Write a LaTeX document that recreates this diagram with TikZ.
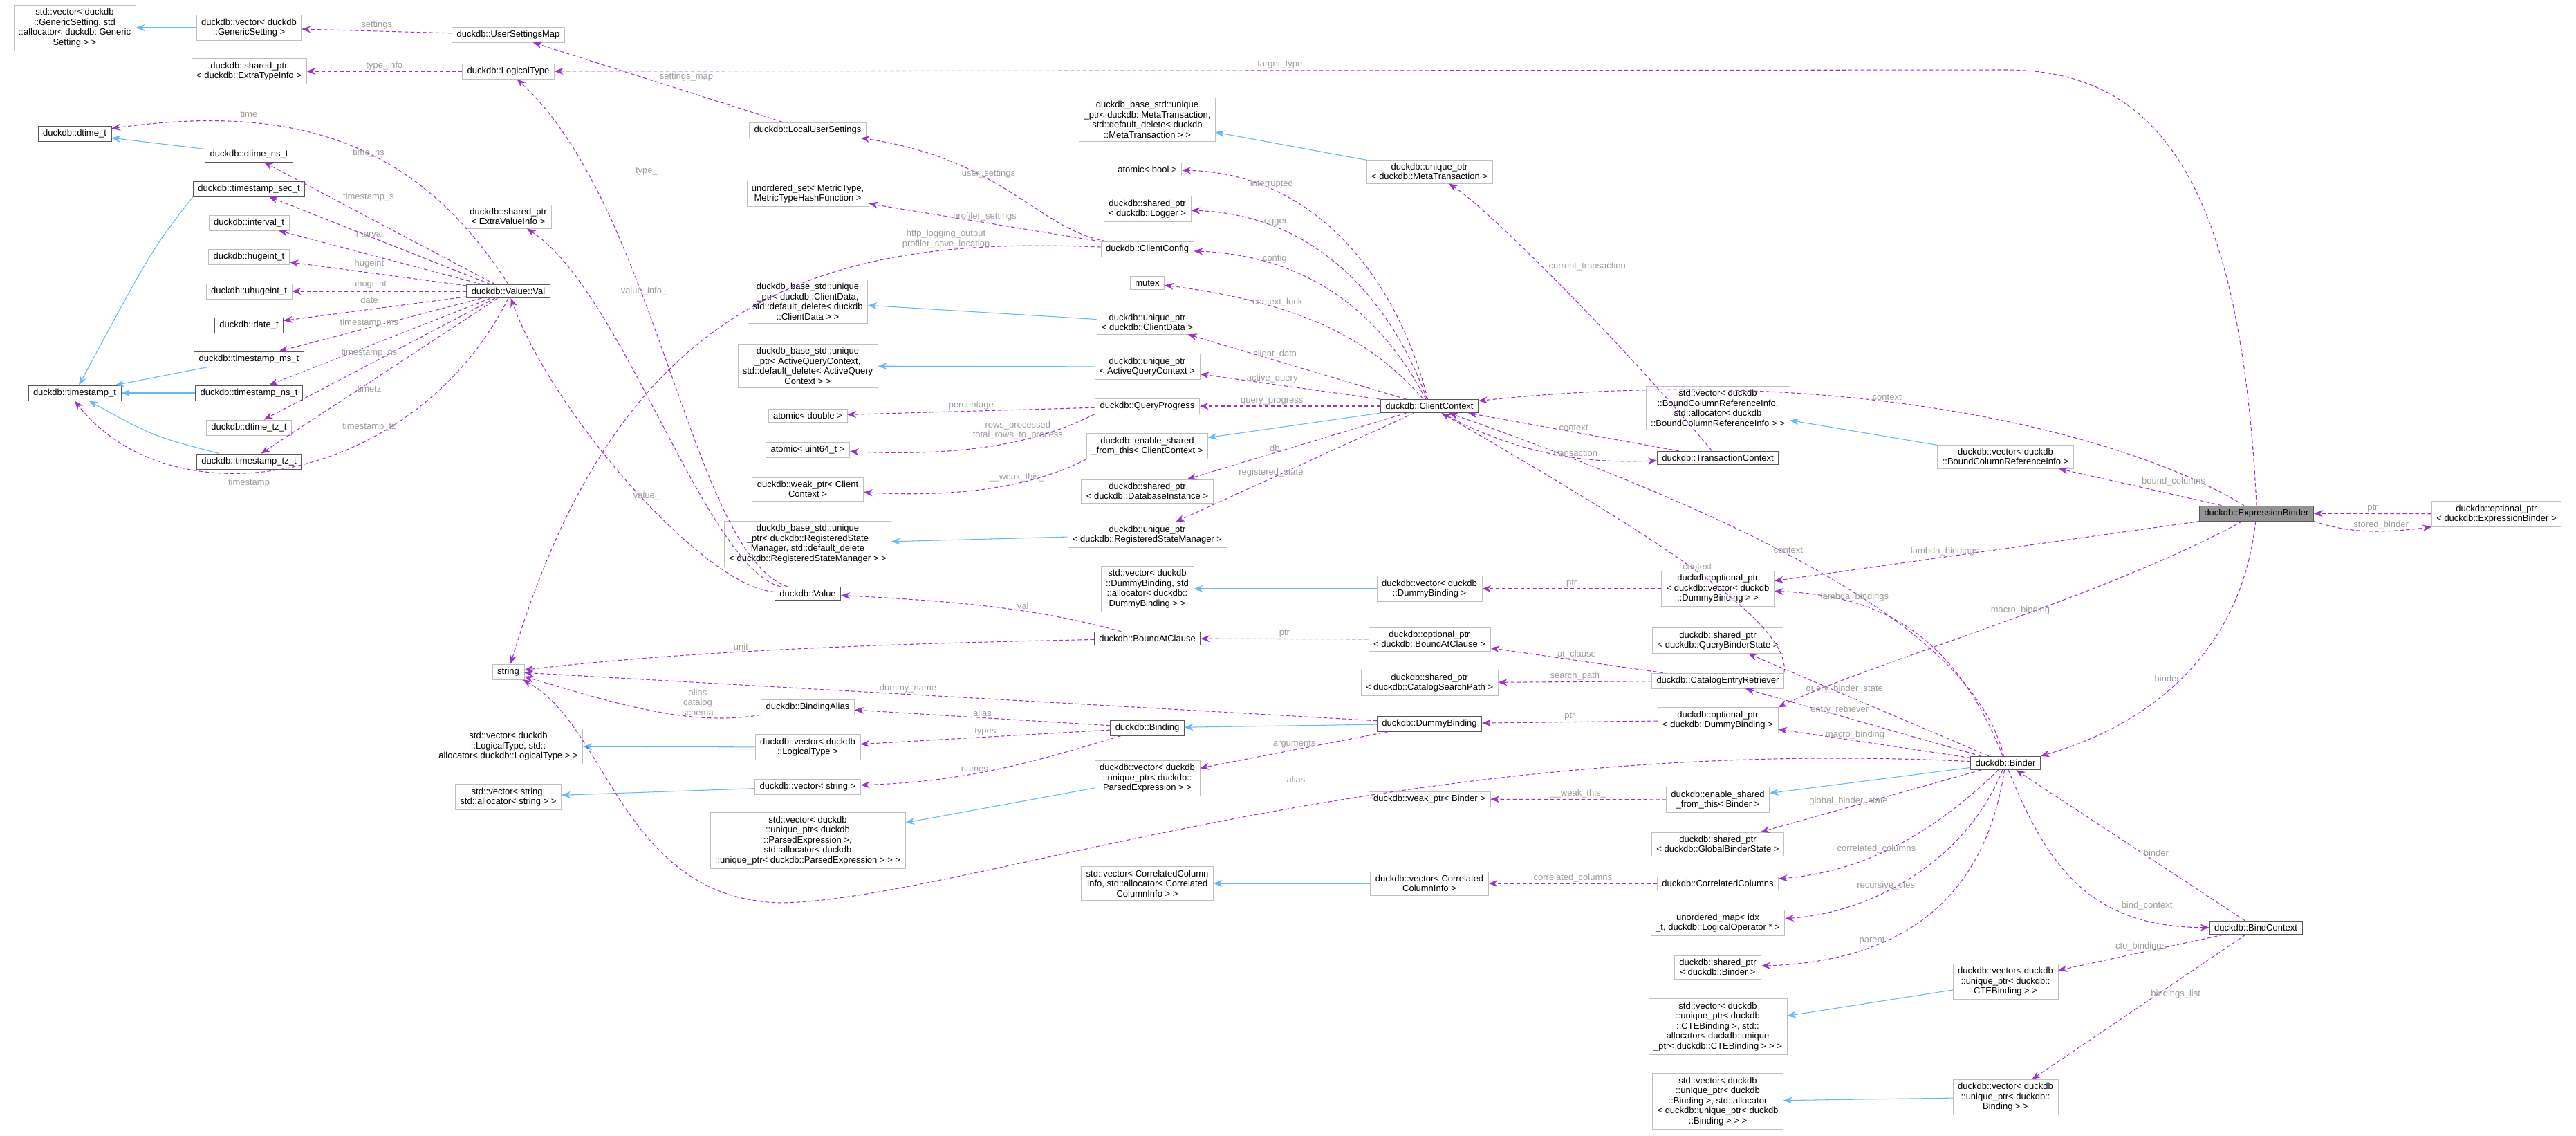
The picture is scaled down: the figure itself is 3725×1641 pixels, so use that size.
\documentclass[tikz,border=0pt]{standalone}
\usepackage{fontspec}
\setmainfont{Liberation Sans}
\usetikzlibrary{arrows.meta}
\definecolor{mempurple}{HTML}{9A32CD}
\definecolor{inhblue}{HTML}{63B8FF}
\definecolor{lblgray}{HTML}{9C9C9C}
\tikzset{
  box/.style={draw, fill=white, align=center, inner xsep=0.14cm, inner ysep=0.1cm,
    font=\fontsize{7.4pt}{8.3pt}\selectfont},
  cls/.style={box, draw=black!65},
  ext/.style={box, draw=black!25},
  mem/.style={draw=mempurple, line width=0.6pt, dash pattern=on 0.11cm off 0.07cm,
    -{Stealth[length=0.26cm,width=0.2cm]}},
  inh/.style={draw=inhblue, line width=0.6pt, -{Stealth[length=0.26cm,width=0.2cm]}},
  lbl/.style={text=lblgray, font=\fontsize{7.4pt}{8.3pt}\selectfont, align=center, inner sep=1pt}
}
\begin{document}
\begin{tikzpicture}[x=0.02cm, y=-0.02cm]
  \useasboundingbox (0,0) rectangle (3725,1641);
  % left columns
  \node[ext] (stdvecgs) at (108,40) {std::vector< duckdb\\::GenericSetting, std\\::allocator< duckdb::Generic\\Setting > >};
  \node[ext] (vecgs) at (360,40) {duckdb::vector< duckdb\\::GenericSetting >};
  \node[ext] (usermap) at (735,50) {duckdb::UserSettingsMap};
  \node[ext] (sharedeti) at (360,103) {duckdb::shared\_ptr\\< duckdb::ExtraTypeInfo >};
  \node[ext] (logtype) at (735,103) {duckdb::LogicalType};
  \node[cls] (dtime) at (108,193) {duckdb::dtime\_t};
  \node[cls] (dtimens) at (360,223) {duckdb::dtime\_ns\_t};
  \node[cls] (tssec) at (360,273) {duckdb::timestamp\_sec\_t};
  \node[ext] (interval) at (360,322) {duckdb::interval\_t};
  \node[ext] (hugeint) at (360,371) {duckdb::hugeint\_t};
  \node[ext] (uhugeint) at (360,421) {duckdb::uhugeint\_t};
  \node[cls] (date) at (360,470) {duckdb::date\_t};
  \node[cls] (tsms) at (360,519) {duckdb::timestamp\_ms\_t};
  \node[cls] (ts) at (108,568) {duckdb::timestamp\_t};
  \node[cls] (tsns) at (360,568) {duckdb::timestamp\_ns\_t};
  \node[ext] (dtimetz) at (360,618) {duckdb::dtime\_tz\_t};
  \node[cls] (tstz) at (360,667) {duckdb::timestamp\_tz\_t};
  \node[cls] (val) at (735,421) {duckdb::Value::Val};
  \node[ext] (sharedevi) at (735,313) {duckdb::shared\_ptr\\< ExtraValueInfo >};
  \node[ext] (string) at (735,971) {string};
  \node[ext] (stdveclt) at (735,1079) {std::vector< duckdb\\::LogicalType, std::\\allocator< duckdb::LogicalType > >};
  \node[ext] (stdvecstr) at (735,1152) {std::vector< string,\\std::allocator< string > >};
  % second column
  \node[ext] (localus) at (1168,188) {duckdb::LocalUserSettings};
  \node[ext] (metricset) at (1168,280) {unordered\_set< MetricType,\\MetricTypeHashFunction >};
  \node[ext] (basecd) at (1168,436) {duckdb\_base\_std::unique\\\_ptr< duckdb::ClientData,\\std::default\_delete< duckdb\\::ClientData > >};
  \node[ext] (baseaq) at (1168,529) {duckdb\_base\_std::unique\\\_ptr< ActiveQueryContext,\\std::default\_delete< ActiveQuery\\Context > >};
  \node[ext] (atomicdbl) at (1168,601) {atomic< double >};
  \node[ext] (atomicu64) at (1168,650) {atomic< uint64\_t >};
  \node[ext] (weakcc) at (1168,707) {duckdb::weak\_ptr< Client\\Context >};
  \node[ext] (baserss) at (1168,786) {duckdb\_base\_std::unique\\\_ptr< duckdb::RegisteredState\\Manager, std::default\_delete\\< duckdb::RegisteredStateManager > >};
  \node[cls] (value) at (1168,858) {duckdb::Value};
  \node[ext] (bindalias) at (1168,1022) {duckdb::BindingAlias};
  \node[ext] (veclt) at (1168,1080) {duckdb::vector< duckdb\\::LogicalType >};
  \node[ext] (vecstr) at (1168,1137) {duckdb::vector< string >};
  \node[ext] (stdvecpe) at (1168,1215) {std::vector< duckdb\\::unique\_ptr< duckdb\\::ParsedExpression >,\\std::allocator< duckdb\\::unique\_ptr< duckdb::ParsedExpression > > >};
  % third column
  \node[ext] (basemt) at (1659,173) {duckdb\_base\_std::unique\\\_ptr< duckdb::MetaTransaction,\\std::default\_delete< duckdb\\::MetaTransaction > >};
  \node[ext] (atomicbool) at (1659,245) {atomic< bool >};
  \node[ext] (sharedlog) at (1659,302) {duckdb::shared\_ptr\\< duckdb::Logger >};
  \node[ext] (config) at (1659,360) {duckdb::ClientConfig};
  \node[ext] (mutex) at (1659,409) {mutex};
  \node[ext] (uniquecd) at (1659,466) {duckdb::unique\_ptr\\< duckdb::ClientData >};
  \node[ext] (uniqueaq) at (1659,530) {duckdb::unique\_ptr\\< ActiveQueryContext >};
  \node[ext] (progress) at (1659,587) {duckdb::QueryProgress};
  \node[ext] (enablecc) at (1659,645) {duckdb::enable\_shared\\\_from\_this< ClientContext >};
  \node[ext] (shareddb) at (1659,710) {duckdb::shared\_ptr\\< duckdb::DatabaseInstance >};
  \node[ext] (uniquerss) at (1659,773) {duckdb::unique\_ptr\\< duckdb::RegisteredStateManager >};
  \node[ext] (stdvecdb) at (1659,851) {std::vector< duckdb\\::DummyBinding, std\\::allocator< duckdb::\\DummyBinding > >};
  \node[cls] (boundat) at (1659,923) {duckdb::BoundAtClause};
  \node[cls] (binding) at (1659,1052) {duckdb::Binding};
  \node[ext] (vecpe) at (1659,1125) {duckdb::vector< duckdb\\::unique\_ptr< duckdb::\\ParsedExpression > >};
  \node[ext] (stdveccc) at (1659,1277) {std::vector< CorrelatedColumn\\Info, std::allocator< Correlated\\ColumnInfo > >};
  % fourth column
  \node[ext] (uniquemt) at (2067,248) {duckdb::unique\_ptr\\< duckdb::MetaTransaction >};
  \node[cls] (cc) at (2067,587) {duckdb::ClientContext};
  \node[ext] (vecdb) at (2067,851) {duckdb::vector< duckdb\\::DummyBinding >};
  \node[ext] (optbat) at (2067,924) {duckdb::optional\_ptr\\< duckdb::BoundAtClause >};
  \node[ext] (sharedcsp) at (2067,987) {duckdb::shared\_ptr\\< duckdb::CatalogSearchPath >};
  \node[cls] (dummy) at (2067,1046) {duckdb::DummyBinding};
  \node[ext] (weakbinder) at (2067,1155) {duckdb::weak\_ptr< Binder >};
  \node[ext] (veccc) at (2067,1277) {duckdb::vector< Correlated\\ColumnInfo >};
  % fifth column
  \node[ext] (stdvecbcri) at (2484,590) {std::vector< duckdb\\::BoundColumnReferenceInfo,\\std::allocator< duckdb\\::BoundColumnReferenceInfo > >};
  \node[cls] (txctx) at (2484,662) {duckdb::TransactionContext};
  \node[ext] (optvecdb) at (2484,851) {duckdb::optional\_ptr\\< duckdb::vector< duckdb\\::DummyBinding > >};
  \node[ext] (sharedqbs) at (2484,926) {duckdb::shared\_ptr\\< duckdb::QueryBinderState >};
  \node[ext] (retriever) at (2484,984) {duckdb::CatalogEntryRetriever};
  \node[ext] (optdb) at (2484,1041) {duckdb::optional\_ptr\\< duckdb::DummyBinding >};
  \node[ext] (enablebinder) at (2484,1156) {duckdb::enable\_shared\\\_from\_this< Binder >};
  \node[ext] (sharedgbs) at (2484,1220) {duckdb::shared\_ptr\\< duckdb::GlobalBinderState >};
  \node[ext] (corrcols) at (2484,1277) {duckdb::CorrelatedColumns};
  \node[ext] (ctemap) at (2484,1334) {unordered\_map< idx\\\_t, duckdb::LogicalOperator * >};
  \node[ext] (sharedbinder) at (2484,1398) {duckdb::shared\_ptr\\< duckdb::Binder >};
  \node[ext] (stdveccte) at (2484,1484) {std::vector< duckdb\\::unique\_ptr< duckdb\\::CTEBinding >, std::\\allocator< duckdb::unique\\\_ptr< duckdb::CTEBinding > > >};
  \node[ext] (stdvecbind) at (2484,1592) {std::vector< duckdb\\::unique\_ptr< duckdb\\::Binding >, std::allocator\\< duckdb::unique\_ptr< duckdb\\::Binding > > >};
  % right columns
  \node[ext] (vecbcri) at (2900,660) {duckdb::vector< duckdb\\::BoundColumnReferenceInfo >};
  \node[cls] (binder) at (2900,1103) {duckdb::Binder};
  \node[ext] (veccte) at (2900,1419) {duckdb::vector< duckdb\\::unique\_ptr< duckdb::\\CTEBinding > >};
  \node[ext] (vecbind) at (2900,1586) {duckdb::vector< duckdb\\::unique\_ptr< duckdb::\\Binding > >};
  \node[cls, fill=black!42] (exprbinder) at (3263,742) {duckdb::ExpressionBinder};
  \node[cls] (bindctx) at (3262,1341) {duckdb::BindContext};
  \node[ext] (optexpr) at (3610,743) {duckdb::optional\_ptr\\< duckdb::ExpressionBinder >};

  % inheritance
  \draw[inh] (vecgs) -- (stdvecgs);
  \draw[inh] (dtimens) -- (dtime);
  \draw[inh] (tssec.south west) ..controls (220,360) .. (ts);
  \draw[inh] (tsms) -- (ts);
  \draw[inh] (tsns) -- (ts);
  \draw[inh] (tstz) ..controls (220,630) .. (ts);
  \draw[inh] (uniquemt) -- (basemt);
  \draw[inh] (uniquecd) -- (basecd);
  \draw[inh] (uniqueaq) -- (baseaq);
  \draw[inh] (cc) -- (enablecc);
  \draw[inh] (uniquerss) -- (baserss);
  \draw[inh] (vecbcri) -- (stdvecbcri);
  \draw[inh] (vecdb) -- (stdvecdb);
  \draw[inh] (dummy) -- (binding);
  \draw[inh] (veclt) -- (stdveclt);
  \draw[inh] (vecstr) -- (stdvecstr);
  \draw[inh] (vecpe) -- (stdvecpe);
  \draw[inh] (veccc) -- (stdveccc);
  \draw[inh] (binder) -- (enablebinder);
  \draw[inh] (veccte) -- (stdveccte);
  \draw[inh] (vecbind) -- (stdvecbind);

  % members of Value::Val
  \draw[mem] (val.north) .. controls (600,200) and (420,150) .. (dtime);
  \draw[mem] (val) -- (dtimens);
  \draw[mem] (val) -- (tssec);
  \draw[mem] (val) -- (interval);
  \draw[mem] (val) -- (hugeint);
  \draw[mem] (val) -- (uhugeint);
  \draw[mem] (val) -- (date);
  \draw[mem] (val) -- (tsms);
  \draw[mem] (val) -- (tsns);
  \draw[mem] (val) -- (dtimetz);
  \draw[mem] (val) -- (tstz);
  \draw[mem] (val.south) .. controls (600,700) and (250,760) .. (ts.south);
  \node[lbl] (ltime) at (360,165) {time};
  \node[lbl] (ltimens) at (533,221) {time\_ns};
  \node[lbl] (ltss) at (533,285) {timestamp\_s};
  \node[lbl] (linterval) at (533,338) {interval};
  \node[lbl] (lhugeint) at (534,381) {hugeint};
  \node[lbl] (luhugeint) at (534,411) {uhugeint};
  \node[lbl] (ldate) at (534,434) {date};
  \node[lbl] (ltsms) at (534,467) {timestamp\_ms};
  \node[lbl] (ltsns) at (534,510) {timestamp\_ns};
  \node[lbl] (ltimetz) at (534,562) {timetz};
  \node[lbl] (ltstz) at (534,617) {timestamp\_tz};
  \node[lbl] (lts) at (360,698) {timestamp};

  % other members
  \draw[mem] (usermap) -- node[lbl, above] {settings} (vecgs);
  \draw[mem] (localus) -- node[lbl, above right] {settings\_map} (usermap);
  \draw[mem] (logtype) -- node[lbl, above] {type\_info} (sharedeti);
  \draw[mem] (exprbinder.north) .. controls (3240,260) and (3120,101) .. (2900,101)
    -- node[lbl, above] {target\_type} (logtype);
  \draw[mem] (value) .. controls (1000,800) and (950,300) .. (logtype);
  \draw[mem] (value) .. controls (1020,820) and (900,420) .. (sharedevi);
  \draw[mem] (value) .. controls (1020,850) and (800,600) .. (val);
  \node[lbl] (ltype) at (935,248) {type\_};
  \node[lbl] (lvalinfo) at (931,421) {value\_info\_};
  \node[lbl] (lvalue) at (935,717) {value\_};
  \draw[mem] (config) .. controls (1200,340) and (900,420) .. node[lbl, above, pos=0.2] {http\_logging\_output\\profiler\_save\_location} (string);
  \draw[mem] (config) .. controls (1500,330) and (1450,230) .. node[lbl, above, pos=0.6] {user\_settings} (localus);
  \draw[mem] (config) -- node[lbl, above] {profiler\_settings} (metricset);
  \draw[mem] (cc) .. controls (2020,400) and (1900,250) .. node[lbl, above, pos=0.75] {interrupted} (atomicbool);
  \draw[mem] (cc) .. controls (2010,430) and (1900,310) .. node[lbl, above, pos=0.75] {logger} (sharedlog);
  \draw[mem] (cc) .. controls (2000,460) and (1900,370) .. node[lbl, above, pos=0.75] {config} (config);
  \draw[mem] (cc) .. controls (1990,500) and (1900,440) .. node[lbl, above, pos=0.7] {context\_lock} (mutex);
  \draw[mem] (cc) -- node[lbl, above, pos=0.6] {client\_data} (uniquecd);
  \draw[mem] (cc) -- node[lbl, above, pos=0.6] {active\_query} (uniqueaq);
  \draw[mem] (cc) -- node[lbl, above, pos=0.6] {query\_progress} (progress);
  \draw[mem] (progress) -- node[lbl, above] {percentage} (atomicdbl);
  \draw[mem] (progress.south west) .. controls (1500,640) and (1400,660) .. node[lbl, above, pos=0.4] {rows\_processed\\total\_rows\_to\_process} (atomicu64);
  \draw[mem] (enablecc.south west) .. controls (1500,700) and (1400,720) .. node[lbl, above, pos=0.4] {\_\_weak\_this\_} (weakcc);
  \draw[mem] (cc) -- node[lbl, above, pos=0.6] {db} (shareddb);
  \draw[mem] (cc) -- node[lbl, above, pos=0.6] {registered\_state} (uniquerss);
  \draw[mem] (txctx) .. controls (2350,500) and (2150,300) .. node[lbl, above right, pos=0.55] {current\_transaction} (uniquemt);
  \draw[mem] (txctx) -- node[lbl, above] {context} (cc);
  \draw[mem] (cc) .. controls (2200,660) and (2300,670) .. node[lbl, above, pos=0.6] {transaction} (txctx);
  \draw[mem] (exprbinder) .. controls (3100,640) and (2700,520) .. node[lbl, above, pos=0.6] {context} (cc);
  \draw[mem] (binder) .. controls (2850,900) and (2500,740) .. node[lbl, above, pos=0.55] {context} (cc);
  \draw[mem] (retriever.north east) .. controls (2590,900) and (2400,780) .. node[lbl, above, pos=0.5] {context} (cc);
  \draw[mem] (boundat) .. controls (1300,930) and (1000,940) .. node[lbl, above, pos=0.6] {unit} (string);
  \draw[mem] (boundat) .. controls (1500,880) and (1400,870) .. node[lbl, above, pos=0.4] {val} (value);
  \draw[mem] (optbat) -- node[lbl, above] {ptr} (boundat);
  \draw[mem] (dummy) -- node[lbl, above, pos=0.55] {dummy\_name} (string);
  \draw[mem] (binding) -- node[lbl, above] {alias} (bindalias);
  \draw[mem] (bindalias) .. controls (1000,1050) and (900,1020) .. node[lbl, above, pos=0.3] {alias\\catalog\\schema} (string);
  \draw[mem] (binding) -- node[lbl, above] {types} (veclt);
  \draw[mem] (binding) .. controls (1500,1100) and (1400,1130) .. node[lbl, above, pos=0.6] {names} (vecstr);
  \draw[mem] (dummy) -- node[lbl, above] {arguments} (vecpe);
  \draw[mem] (binder) .. controls (2000,1060) and (1400,1300) .. (1130,1305)
    .. controls (900,1300) and (880,1050) .. (string);
  \node[lbl] (laliasb) at (1874,1127) {alias};
  \draw[mem] (optvecdb) -- node[lbl, above] {ptr} (vecdb);
  \draw[mem] (retriever) -- node[lbl, above] {at\_clause} (optbat);
  \draw[mem] (retriever) -- node[lbl, above] {search\_path} (sharedcsp);
  \draw[mem] (optdb) -- node[lbl, above] {ptr} (dummy);
  \draw[mem] (enablebinder) -- node[lbl, above] {\_\_weak\_this\_} (weakbinder);
  \draw[mem] (corrcols) -- node[lbl, above] {correlated\_columns} (veccc);
  \draw[mem] (exprbinder) -- node[lbl, above right] {bound\_columns} (vecbcri);
  \draw[mem] (exprbinder) -- node[lbl, above, pos=0.6] {lambda\_bindings} (optvecdb);
  \draw[mem] (exprbinder) .. controls (3050,860) and (2700,960) .. node[lbl, above, pos=0.45] {macro\_binding} (optdb.north east);
  \draw[mem] (exprbinder) .. controls (3240,950) and (3100,1050) .. node[lbl, left, pos=0.5] {binder} (binder.north east);
  \draw[mem] (optexpr) -- node[lbl, above] {ptr} (exprbinder);
  \draw[mem] (exprbinder.south east) .. controls (3400,772) and (3450,770) .. node[lbl, above, pos=0.6] {stored\_binder} (optexpr.south west);
  \draw[mem] (binder) .. controls (2820,900) and (2700,860) .. node[lbl, above, pos=0.7] {lambda\_bindings} (optvecdb);
  \draw[mem] (binder) -- node[lbl, above, pos=0.6] {query\_binder\_state} (sharedqbs);
  \draw[mem] (binder) -- node[lbl, above, pos=0.6] {entry\_retriever} (retriever);
  \draw[mem] (binder) -- node[lbl, above, pos=0.6] {macro\_binding} (optdb);
  \draw[mem] (binder) -- node[lbl, above, pos=0.6] {global\_binder\_state} (sharedgbs);
  \draw[mem] (binder) .. controls (2800,1200) and (2700,1260) .. node[lbl, above, pos=0.6] {correlated\_columns} (corrcols);
  \draw[mem] (binder) .. controls (2840,1250) and (2700,1320) .. node[lbl, above, pos=0.6] {recursive\_ctes} (ctemap);
  \draw[mem] (binder) .. controls (2870,1300) and (2750,1390) .. node[lbl, above, pos=0.7] {parent} (sharedbinder);
  \draw[mem] (binder) .. controls (2960,1250) and (3020,1340) .. node[lbl, above right, pos=0.7] {bind\_context} (bindctx);
  \draw[mem] (bindctx) -- node[lbl, right, pos=0.45] {binder} (binder);
  \draw[mem] (bindctx) -- node[lbl, above] {cte\_bindings} (veccte);
  \draw[mem] (bindctx) -- node[lbl, above right, pos=0.45] {bindings\_list} (vecbind);
\end{tikzpicture}
\end{document}
